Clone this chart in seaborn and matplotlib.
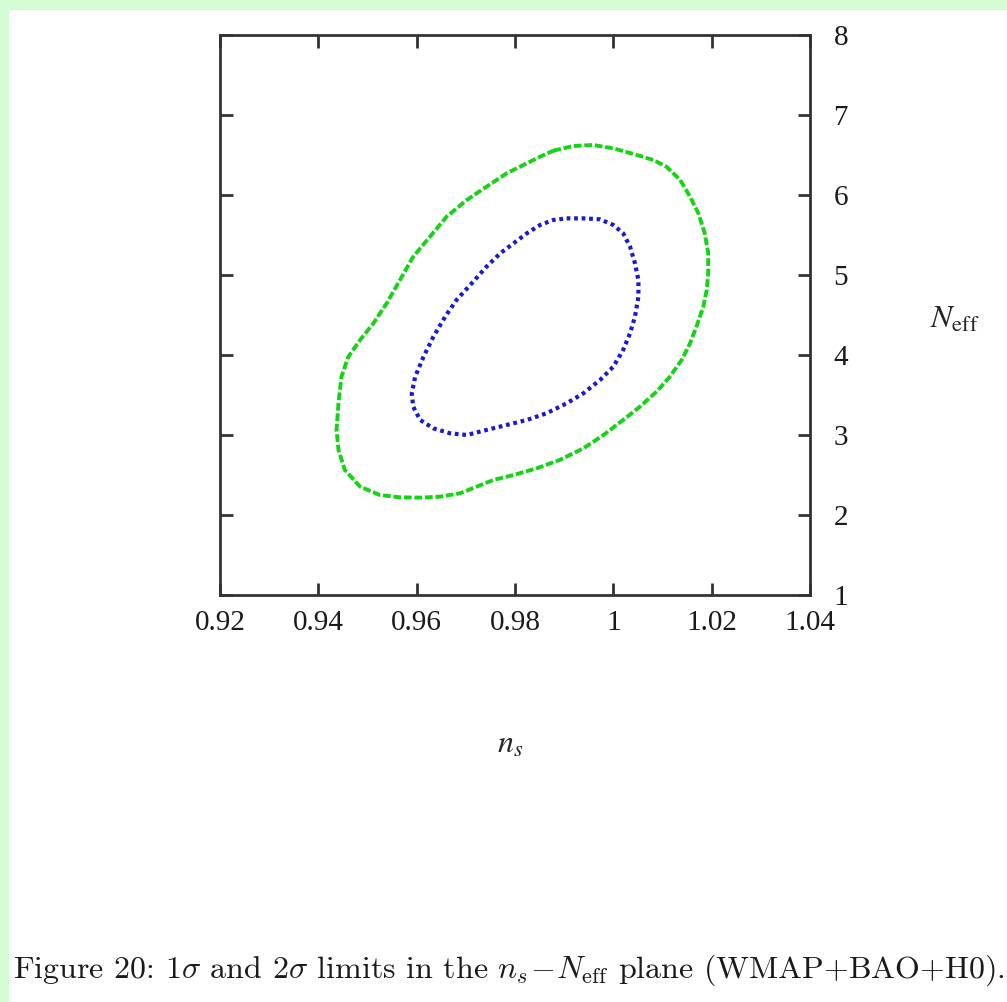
import numpy as np
import pandas as pd
import matplotlib
matplotlib.use("Agg")
import matplotlib.pyplot as plt
import seaborn as sns
from matplotlib.patches import Rectangle

# 2-sigma contour (outer, green dashed)
outer_ns = [0.9878, 0.9919, 0.9959, 1.0000, 1.0041, 1.0081, 1.0108, 1.0136,
            1.0156, 1.0173, 1.0186, 1.0193, 1.0193, 1.0190, 1.0183, 1.0169,
            1.0156, 1.0139, 1.0115, 1.0088, 1.0054, 1.0020, 0.9980, 0.9939,
            0.9891, 0.9844, 0.9797, 0.9756, 0.9722, 0.9688, 0.9647, 0.9607,
            0.9566, 0.9525, 0.9485, 0.9454, 0.9441, 0.9437, 0.9441, 0.9447,
            0.9461, 0.9485, 0.9512, 0.9539, 0.9566, 0.9593, 0.9627, 0.9661,
            0.9702, 0.9742, 0.9783, 0.9824, 0.9851]
outer_neff = [6.554, 6.613, 6.625, 6.583, 6.513, 6.438, 6.354, 6.188,
              5.979, 5.771, 5.521, 5.271, 5.021, 4.813, 4.604, 4.354,
              4.146, 3.938, 3.729, 3.542, 3.354, 3.188, 3.000, 2.833,
              2.688, 2.583, 2.500, 2.438, 2.354, 2.271, 2.229, 2.217,
              2.221, 2.250, 2.354, 2.563, 2.813, 3.063, 3.396, 3.729,
              3.979, 4.188, 4.396, 4.646, 4.938, 5.229, 5.479, 5.729,
              5.938, 6.104, 6.271, 6.396, 6.479]

# 1-sigma contour (inner, blue dotted)
inner_ns = [0.9905, 0.9939, 0.9973, 1.0000, 1.0020, 1.0034, 1.0044, 1.0051,
            1.0051, 1.0044, 1.0034, 1.0020, 1.0000, 0.9973, 0.9939, 0.9905,
            0.9864, 0.9824, 0.9783, 0.9742, 0.9702, 0.9668, 0.9634, 0.9607,
            0.9593, 0.9590, 0.9597, 0.9614, 0.9634, 0.9658, 0.9681, 0.9712,
            0.9742, 0.9770, 0.9797, 0.9824, 0.9851, 0.9878]
inner_neff = [5.708, 5.708, 5.696, 5.625, 5.521, 5.354, 5.146, 4.938,
              4.729, 4.479, 4.271, 4.063, 3.854, 3.688, 3.521, 3.396,
              3.271, 3.188, 3.125, 3.063, 3.000, 3.021, 3.083, 3.188,
              3.354, 3.521, 3.729, 3.979, 4.229, 4.479, 4.688, 4.896,
              5.104, 5.271, 5.396, 5.521, 5.625, 5.688]

x_ticks = [0.92, 0.94, 0.96, 0.98, 1.00, 1.02, 1.04]
x_labels = ["0.92", "0.94", "0.96", "0.98", "1", "1.02", "1.04"]
y_ticks = [1, 2, 3, 4, 5, 6, 7, 8]

caption = ("Figure 20: 1$\\sigma$ and 2$\\sigma$ limits in the "
           "$n_s\\!-\\!N_{\\rm eff}$ plane (WMAP+BAO+H0).")

sns.set_theme(style="white")
plt.rcParams["font.family"] = ["Liberation Serif", "DejaVu Serif"]
plt.rcParams["mathtext.fontset"] = "stix"

W, H = 1007, 1002
fig = plt.figure(figsize=(W / 100, H / 100), dpi=100)
fig.patch.set_facecolor("white")

# green page border of the scan
fig.add_artist(Rectangle((0, 1 - 10 / H), 1, 10 / H, transform=fig.transFigure,
                         color="#d4fcd4", lw=0, zorder=0))
fig.add_artist(Rectangle((0, 0), 9 / W, 1, transform=fig.transFigure,
                         color="#d4fcd4", lw=0, zorder=0))

ax = fig.add_axes([220 / W, 1 - 595 / H, 590 / W, 560 / H])


def closed(xs, ys):
    # repeat the first point so the contour closes
    return pd.DataFrame({"ns": xs + xs[:1], "neff": ys + ys[:1]})


outer = closed(outer_ns, outer_neff)
inner = closed(inner_ns, inner_neff)

sns.lineplot(data=outer, x="ns", y="neff", sort=False, estimator=None, ax=ax,
             color="#14d414", lw=2.8, linestyle=(0, (2.0, 0.7)))
sns.lineplot(data=inner, x="ns", y="neff", sort=False, estimator=None, ax=ax,
             color="#1a1ad0", lw=3, linestyle=(0, (0.9, 0.9)))

ax.set_xlim(0.92, 1.04)
ax.set_ylim(1, 8)
ax.set_xticks(x_ticks)
ax.set_xticklabels(x_labels)
ax.set_yticks(y_ticks)
ax.set_xlabel("")
ax.set_ylabel("")

for s in ax.spines.values():
    s.set_color("#333333")
    s.set_linewidth(2)

ax.tick_params(axis="both", direction="in", length=9, width=2, color="#333333",
               labelsize=21, labelcolor="#1a1a1a")
ax.tick_params(axis="x", top=True, bottom=True, pad=11)
ax.tick_params(axis="y", left=True, right=True, labelleft=False,
               labelright=True, pad=17)

fig.text(510 / W, 1 - 745 / H, "$n_s$", fontsize=23, ha="center", va="center")
fig.text(955 / W, 1 - 320 / H, "$N_{\\rm eff}$", fontsize=23, ha="center",
         va="center")

fig.text(13 / W, 1 - 970 / H, caption, fontsize=23, ha="left", va="center",
         family=["cmr10", "DejaVu Serif"], math_fontfamily="cm",
         color="#1a1a1a")

fig.savefig("out.png", dpi=100, facecolor="white")
